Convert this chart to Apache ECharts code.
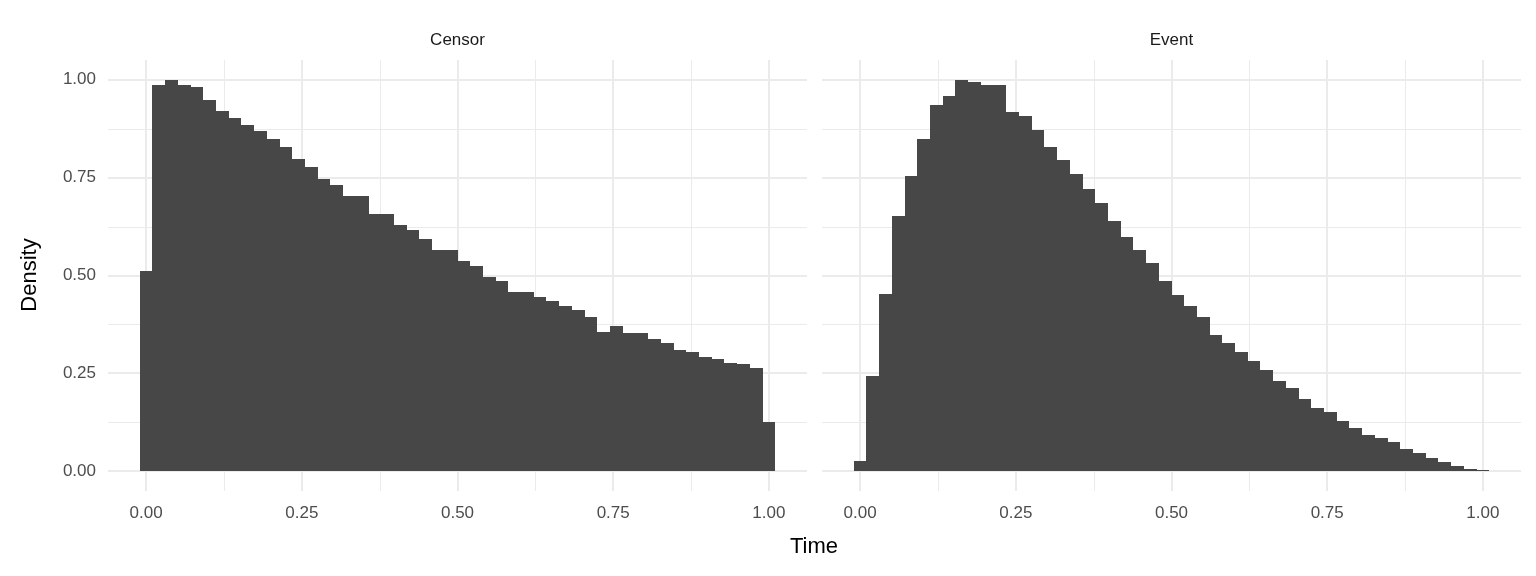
<!DOCTYPE html>
<html>
<head>
<meta charset="utf-8">
<script src="https://cdn.jsdelivr.net/npm/echarts@6/dist/echarts.min.js"></script>
<style>
  html, body { margin: 0; padding: 0; background: #fff; }
  #chart { width: 1536px; height: 576px; }
</style>
</head>
<body>
<div id="chart"></div>
<script>
// histogram densities, 50 bins over [0, 1] (bin centres k/49)
const censorDensity = [
  0.511, 0.985, 1.000, 0.987, 0.982, 0.949, 0.921, 0.903, 0.883, 0.870,
  0.849, 0.829, 0.798, 0.778, 0.747, 0.730, 0.704, 0.702, 0.658, 0.658,
  0.628, 0.615, 0.592, 0.566, 0.564, 0.536, 0.523, 0.497, 0.485, 0.459,
  0.459, 0.446, 0.436, 0.423, 0.411, 0.395, 0.357, 0.370, 0.352, 0.352,
  0.339, 0.329, 0.311, 0.306, 0.293, 0.286, 0.276, 0.273, 0.263, 0.125
]
const eventDensity = [
  0.026, 0.243, 0.452, 0.653, 0.753, 0.849, 0.936, 0.957, 1.000, 0.995,
  0.987, 0.985, 0.918, 0.906, 0.872, 0.829, 0.796, 0.760, 0.722, 0.684,
  0.640, 0.597, 0.566, 0.531, 0.485, 0.449, 0.421, 0.395, 0.349, 0.327,
  0.306, 0.283, 0.258, 0.232, 0.212, 0.184, 0.161, 0.151, 0.128, 0.112,
  0.094, 0.084, 0.074, 0.056, 0.046, 0.033, 0.023, 0.015, 0.005, 0.002
]
const panelNames = ['Censor', 'Event']
const majorTicks = [0, 0.25, 0.5, 0.75, 1]
const minorTicks = [0.125, 0.375, 0.625, 0.875]

const binWidth = 1 / 49
const xMin = -0.0612
const xMax = 1.0612
const yMin = -0.05
const yMax = 1.05
const font = "'Liberation Sans', Arial, Helvetica, sans-serif"

// [left edge, right edge, density]
function toBins(arr) {
  return arr.map((v, i) => [i * binWidth - binWidth / 2, i * binWidth + binWidth / 2, v])
}

// gridlines: [value, major?, vertical?]
const gridData = []
majorTicks.forEach((v) => { gridData.push([v, 1, 1]); gridData.push([v, 1, 0]) })
minorTicks.forEach((v) => { gridData.push([v, 0, 1]); gridData.push([v, 0, 0]) })

function renderGrid(params, api) {
  const cs = params.coordSys
  const v = api.value(0)
  const major = api.value(1) === 1
  const w = major ? 2 : 1
  const off = major ? 0 : 0.5
  let shape
  if (api.value(2) === 1) {
    const x = Math.round(api.coord([v, 0])[0]) + off
    shape = { x1: x, y1: cs.y, x2: x, y2: cs.y + cs.height }
  } else {
    const y = Math.round(api.coord([0, v])[1]) + off
    shape = { x1: cs.x, y1: y, x2: cs.x + cs.width, y2: y }
  }
  return { type: 'line', shape: shape, style: { stroke: '#EBEBEB', lineWidth: w } }
}

// snap bar edges to whole pixels so neighbouring bins leave no seam
function renderBar(params, api) {
  const p0 = api.coord([api.value(0), api.value(2)])
  const p1 = api.coord([api.value(1), 0])
  const x0 = Math.round(p0[0])
  const x1 = Math.round(p1[0])
  const y1 = Math.round(p1[1])
  let y0 = Math.round(p0[1])
  if (api.value(2) > 0 && y0 >= y1) y0 = y1 - 1 // keep tiny bins visible
  return {
    type: 'rect',
    shape: { x: x0, y: y0, width: x1 - x0, height: y1 - y0 },
    style: { fill: '#474747' },
  }
}

const grids = [
  { left: 108, top: 60, width: 699, height: 431 },
  { left: 822, top: 60, width: 699, height: 431 },
]

const labelStyle = { color: '#4D4D4D', fontSize: 17, fontFamily: font }

const xAxes = grids.map((g, i) => ({
  type: 'value',
  gridIndex: i,
  min: xMin,
  max: xMax,
  axisLine: { show: false },
  axisTick: { show: false },
  splitLine: { show: false },
  axisLabel: Object.assign({
    customValues: majorTicks,
    formatter: (v) => v.toFixed(2),
    margin: 14,
  }, labelStyle),
}))

const yAxes = grids.map((g, i) => ({
  type: 'value',
  gridIndex: i,
  min: yMin,
  max: yMax,
  axisLine: { show: false },
  axisTick: { show: false },
  splitLine: { show: false },
  axisLabel: Object.assign({
    show: i === 0,
    customValues: majorTicks,
    formatter: (v) => v.toFixed(2),
    margin: 12,
  }, labelStyle),
}))

const series = []
;[censorDensity, eventDensity].forEach((arr, i) => {
  series.push({
    type: 'custom',
    xAxisIndex: i,
    yAxisIndex: i,
    silent: true,
    z: 1,
    renderItem: renderGrid,
    data: gridData,
    encode: { x: 0 },
  })
  series.push({
    type: 'custom',
    xAxisIndex: i,
    yAxisIndex: i,
    silent: true,
    z: 2,
    renderItem: renderBar,
    data: toBins(arr),
    encode: { x: [0, 1], y: 2 },
  })
})

const graphics = panelNames.map((name, i) => ({
  type: 'text',
  x: grids[i].left + grids[i].width / 2,
  y: 40,
  style: {
    text: name,
    fill: '#1A1A1A',
    font: '17px ' + font,
    textAlign: 'center',
    textVerticalAlign: 'middle',
  },
}))
graphics.push({
  type: 'text',
  x: 814,
  y: 547,
  style: { text: 'Time', fill: '#000', font: '22px ' + font, textAlign: 'center', textVerticalAlign: 'middle' },
})
graphics.push({
  type: 'text',
  x: 30,
  y: 275,
  rotation: Math.PI / 2,
  style: { text: 'Density', fill: '#000', font: '22px ' + font, textAlign: 'center', textVerticalAlign: 'middle' },
})

const myChart = echarts.init(document.getElementById('chart'), null, { renderer: 'canvas' })
myChart.setOption({
  animation: false,
  backgroundColor: '#ffffff',
  grid: grids,
  xAxis: xAxes,
  yAxis: yAxes,
  series: series,
  graphic: graphics,
})
</script>
</body>
</html>
